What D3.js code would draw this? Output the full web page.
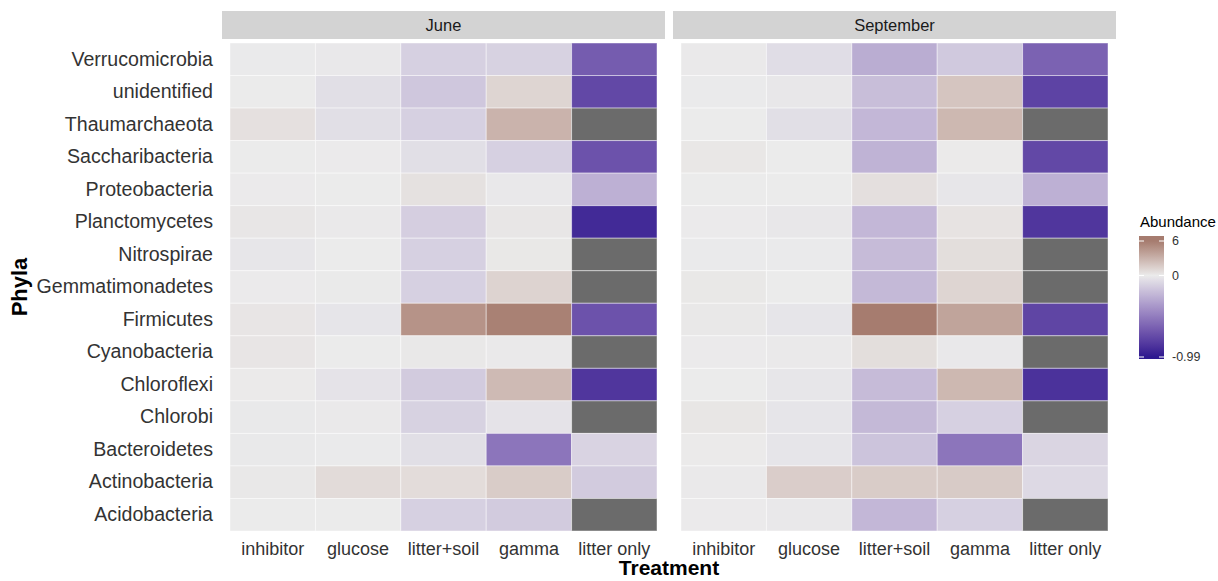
<!DOCTYPE html>
<html>
<head>
<meta charset="utf-8">
<script src="https://cdn.jsdelivr.net/npm/d3@7"></script>
<style>
  html, body { margin: 0; padding: 0; background: #ffffff; }
  svg { display: block; font-family: "Liberation Sans", Arial, Helvetica, sans-serif; }
</style>
</head>
<body>
<svg id="chart" width="1218" height="581"></svg>
<script>
// Phyla from top row to bottom row
const phyla = ["Verrucomicrobia", "unidentified", "Thaumarchaeota", "Saccharibacteria",
  "Proteobacteria", "Planctomycetes", "Nitrospirae", "Gemmatimonadetes", "Firmicutes",
  "Cyanobacteria", "Chloroflexi", "Chlorobi", "Bacteroidetes", "Actinobacteria", "Acidobacteria"];

const treatments = ["inhibitor", "glucose", "litter+soil", "gamma", "litter only"];
const months = ["June", "September"];

// Relative abundance change per phylum (rows) and treatment (columns); null = no data
const juneValues = [
  [-0.02, -0.05, -0.42, -0.40, -0.952],
  [ 0.00, -0.22, -0.52,  0.45, -0.970],
  [ 0.20, -0.22, -0.42,  1.60,  null],
  [ 0.00, -0.01, -0.22, -0.42, -0.962],
  [-0.01,  0.00,  0.18, -0.06, -0.70],
  [ 0.08, -0.03, -0.44,  0.08, -0.985],
  [-0.10,  0.00, -0.42,  0.06,  null],
  [-0.01,  0.02, -0.42,  0.50,  null],
  [ 0.10, -0.12,  3.60,  5.40, -0.962],
  [ 0.10,  0.00,  0.05, -0.03,  null],
  [ 0.01, -0.14, -0.48,  1.30, -0.980],
  [-0.04, -0.03, -0.40, -0.15,  null],
  [-0.04, -0.02, -0.22, -0.915, -0.38],
  [ 0.05,  0.30,  0.28,  0.70, -0.48],
  [ 0.00,  0.00, -0.42, -0.48,  null]
];

const septemberValues = [
  [-0.03, -0.24, -0.72, -0.50, -0.945],
  [-0.02, -0.08, -0.60,  0.90, -0.973],
  [ 0.00, -0.22, -0.65,  1.40,  null],
  [ 0.07,  0.00, -0.68,  0.01, -0.970],
  [ 0.00,  0.00,  0.22, -0.10, -0.70],
  [-0.01, -0.08, -0.65,  0.14, -0.980],
  [-0.02, -0.02, -0.62,  0.25,  null],
  [ 0.06,  0.00, -0.64,  0.45,  null],
  [ 0.05, -0.12,  6.00,  2.40, -0.972],
  [-0.01, -0.03,  0.25, -0.06,  null],
  [ 0.00, -0.10, -0.62,  1.40, -0.982],
  [ 0.09, -0.12, -0.64, -0.42,  null],
  [ 0.01, -0.12, -0.55, -0.915, -0.36],
  [-0.03,  0.65,  0.70,  0.72, -0.30],
  [-0.01, -0.06, -0.65, -0.42,  null]
];

const legendBreaks = [6, 0, -0.99];
const legendLabels = ["6", "0", "-0.99"];

const valuesByMonth = { June: juneValues, September: septemberValues };

const svg = d3.select("#chart");

// Colour scale works on log1p-transformed abundance
const tMin = Math.log1p(-0.99), tMax = Math.log1p(6);
const color = d3.scaleLinear()
  .domain([tMin, 0, tMax])
  .range(["#2c188f", "#ebebeb", "#a67c6f"])
  .interpolate(d3.interpolateLab)
  .clamp(true);
const naColor = "#6b6b6b";

// Panel geometry
const panels = [
  { month: "June", stripX0: 222, stripX1: 665, x0: 230, x1: 657 },
  { month: "September", stripX0: 673, stripX1: 1116, x0: 681, x1: 1108 }
];
const stripY0 = 11, stripY1 = 39;

const y = d3.scaleBand().domain(phyla).range([43, 531]).padding(0);

panels.forEach(p => {
  const x = d3.scaleBand().domain(treatments).range([p.x0, p.x1]).padding(0);
  const g = svg.append("g");

  // strip
  g.append("rect")
    .attr("x", p.stripX0).attr("y", stripY0)
    .attr("width", p.stripX1 - p.stripX0).attr("height", stripY1 - stripY0)
    .attr("fill", "#d3d3d3");
  g.append("text")
    .attr("x", (p.stripX0 + p.stripX1) / 2).attr("y", (stripY0 + stripY1) / 2)
    .attr("dy", "0.35em").attr("text-anchor", "middle")
    .attr("font-size", "16.5px").attr("fill", "#1a1a1a")
    .text(p.month);

  // tiles
  const cells = [];
  valuesByMonth[p.month].forEach((row, i) => {
    row.forEach((v, j) => cells.push({ phylum: phyla[i], treatment: treatments[j], value: v }));
  });
  g.selectAll("rect.tile").data(cells).join("rect")
    .attr("class", "tile")
    .attr("x", d => x(d.treatment))
    .attr("y", d => y(d.phylum))
    .attr("width", x.bandwidth())
    .attr("height", y.bandwidth())
    .attr("fill", d => d.value === null ? naColor : color(Math.log1p(d.value)))
    .attr("stroke", "rgba(255,255,255,0.45)")
    .attr("stroke-width", 1);

  // x axis labels
  const xAxis = d3.axisBottom(x).tickSize(0).tickPadding(0);
  const ax = g.append("g").attr("transform", "translate(0,538)").call(xAxis);
  ax.select(".domain").remove();
  ax.selectAll("text")
    .attr("font-size", "18px").attr("fill", "#333333")
    .attr("font-family", "Liberation Sans, Arial, sans-serif")
    .attr("dy", "0.95em");
});

// y axis labels
const yAxis = d3.axisLeft(y).tickSize(0).tickPadding(0);
const ay = svg.append("g").attr("transform", "translate(213,0)").call(yAxis);
ay.select(".domain").remove();
ay.selectAll("text")
  .attr("font-size", "19.6px").attr("fill", "#333333")
  .attr("font-family", "Liberation Sans, Arial, sans-serif");

// axis titles
svg.append("text")
  .attr("x", 669).attr("y", 575)
  .attr("text-anchor", "middle").attr("font-weight", "bold")
  .attr("font-size", "21px").attr("fill", "#000")
  .text("Treatment");
svg.append("text")
  .attr("transform", "translate(27,287) rotate(-90)")
  .attr("text-anchor", "middle").attr("font-weight", "bold")
  .attr("font-size", "22px").attr("fill", "#000")
  .text("Phyla");

// legend
const legX = 1139, legW = 25, legTop = 236, legBottom = 359;
const legScale = d3.scaleLinear().domain([tMax, tMin]).range([241, 357]);
const defs = svg.append("defs");
const grad = defs.append("linearGradient").attr("id", "abGrad")
  .attr("x1", 0).attr("x2", 0).attr("y1", 0).attr("y2", 1);
d3.range(0, 1.0001, 0.02).forEach(f => {
  const py = legTop + f * (legBottom - legTop);
  grad.append("stop").attr("offset", f).attr("stop-color", color(legScale.invert(py)));
});
svg.append("text")
  .attr("x", 1140).attr("y", 227)
  .attr("font-size", "15px").attr("fill", "#000")
  .text("Abundance");
svg.append("rect")
  .attr("x", legX).attr("y", legTop).attr("width", legW).attr("height", legBottom - legTop)
  .attr("fill", "url(#abGrad)");
legendBreaks.forEach((b, i) => {
  const py = legScale(Math.log1p(b));
  svg.append("line").attr("x1", legX).attr("x2", legX + 5).attr("y1", py).attr("y2", py)
    .attr("stroke", "#ffffff").attr("stroke-width", 1);
  svg.append("line").attr("x1", legX + legW - 5).attr("x2", legX + legW).attr("y1", py).attr("y2", py)
    .attr("stroke", "#ffffff").attr("stroke-width", 1);
  svg.append("text")
    .attr("x", 1172).attr("y", py).attr("dy", "0.35em")
    .attr("font-size", "12.5px").attr("fill", "#333333")
    .text(legendLabels[i]);
});
</script>
</body>
</html>
